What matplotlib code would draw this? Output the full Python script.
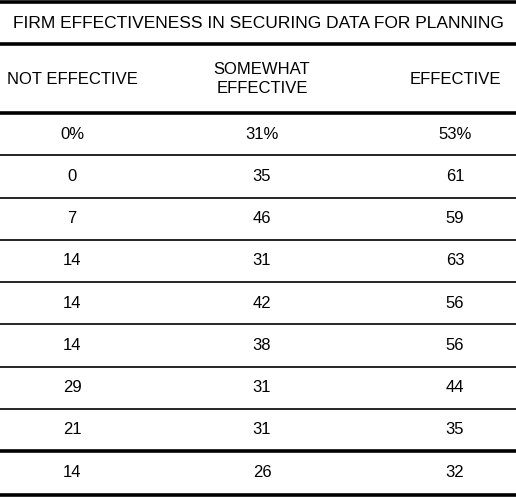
import matplotlib.pyplot as plt

title = "FIRM EFFECTIVENESS IN SECURING DATA FOR PLANNING"
headers = ["NOT EFFECTIVE", "SOMEWHAT\nEFFECTIVE", "EFFECTIVE"]
not_effective = ["0%", "0", "7", "14", "14", "14", "29", "21", "14"]
somewhat_effective = ["31%", "35", "46", "31", "42", "38", "31", "31", "26"]
effective = ["53%", "61", "59", "63", "56", "56", "44", "35", "32"]

plt.rcParams['font.family'] = ['Liberation Sans Narrow', 'Liberation Sans', 'DejaVu Sans']

W, H = 516, 498
fig = plt.figure(figsize=(W / 100, H / 100), dpi=100)
ax = fig.add_axes([0, 0, 1, 1])
ax.set_xlim(0, W)
ax.set_ylim(H, 0)
ax.axis("off")

col_x = [72, 262, 455]
row_top = 113
row_h = (451 - 113) / 8

ax.text(W / 2, 23, title, ha="center", va="center", fontsize=12.5)
for x, h in zip(col_x, headers):
    ax.text(x, 79, h, ha="center", va="center", fontsize=12, linespacing=1.4)

for i, row in enumerate(zip(not_effective, somewhat_effective, effective)):
    y = row_top + row_h * (i + 0.5)
    for x, v in zip(col_x, row):
        ax.text(x, y, v, ha="center", va="center", fontsize=12)

# rules
ax.hlines([2, 44, 113, 451, 495], 0, W, colors="black", linewidth=2.6)
thin = [row_top + row_h * k for k in range(1, 8)]
ax.hlines(thin, 0, W, colors="black", linewidth=1.2)

fig.savefig("out.png", dpi=100)
